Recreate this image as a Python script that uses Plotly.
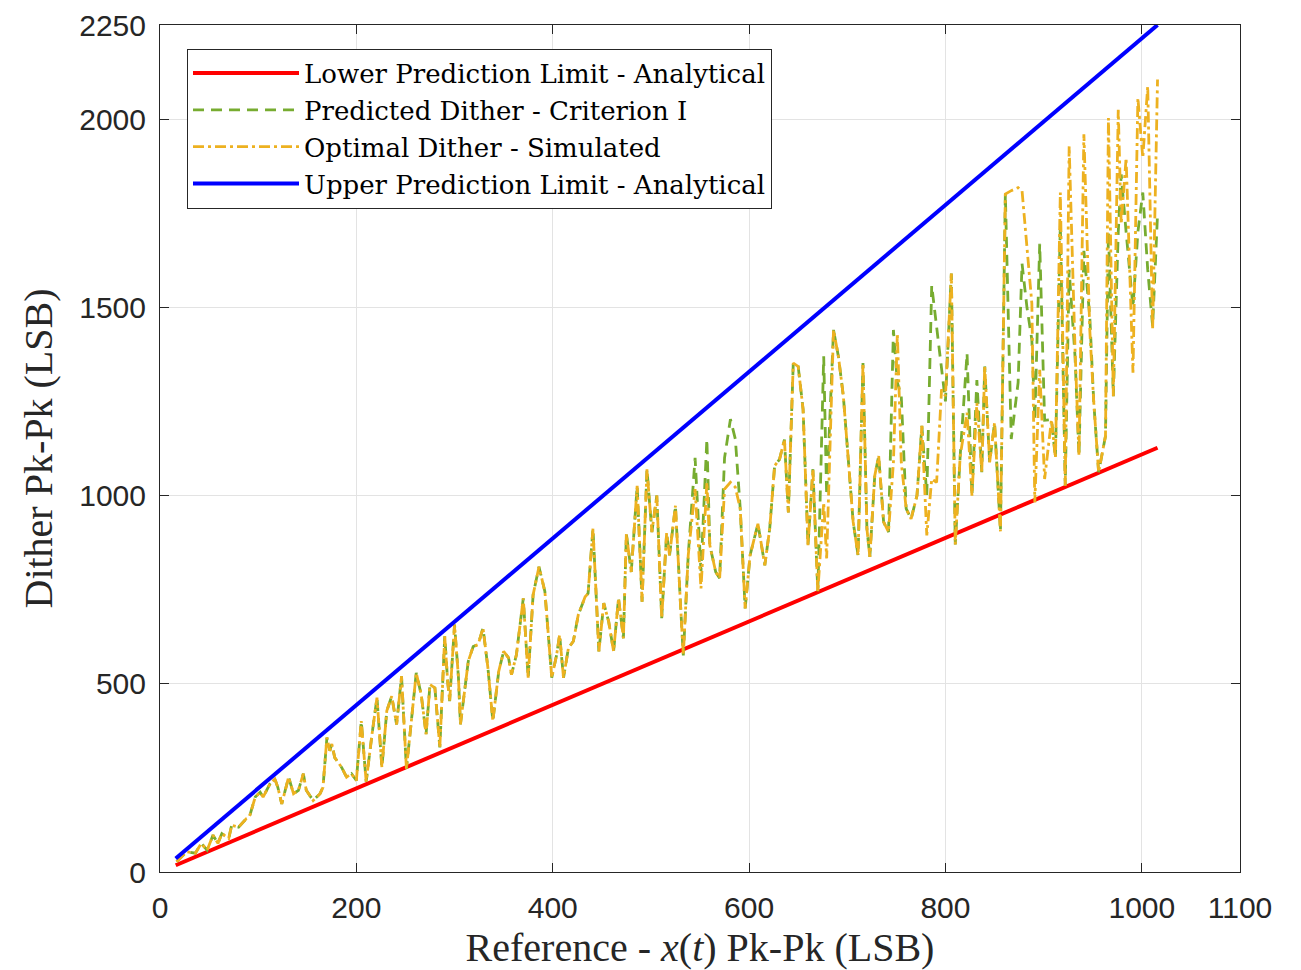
import plotly.graph_objects as go

# ---- data ----
limit_x = [16, 1016]
lower_limit = [18, 1127]
upper_limit = [36, 2250]

ref_x = [17, 27, 36, 42, 48, 54, 59, 63, 70, 73, 80, 83, 88, 91, 97, 102, 105, 112, 117, 120,
         124, 131, 136, 141, 146, 149, 156, 163, 166, 170, 173, 175, 178, 185, 190, 195, 200, 205, 210, 216,
         221, 226, 231, 236, 241, 246, 251, 256, 261, 266, 271, 275, 280, 285, 290, 293, 295, 300, 304, 306,
         314, 319, 324, 329, 334, 339, 345, 350, 355, 358, 363, 370, 375, 380, 386, 392, 399, 404, 407, 411,
         416, 421, 426, 433, 436, 441, 445, 447, 452, 457, 462, 467, 472, 475, 480, 486, 491, 496, 501, 506,
         511, 516, 519, 525, 530, 533, 538, 545, 551, 557, 560, 566, 570, 575, 581, 586, 591, 596, 601, 609,
         616, 621, 626, 631, 636, 640, 645, 650, 655, 660, 665, 670, 676, 679, 686, 691, 696, 701, 706, 711,
         716, 720, 723, 728, 732, 737, 742, 747, 751, 755, 760, 765, 771, 776, 781, 786, 791, 796, 800, 806,
         810, 815, 822, 827, 832, 837, 840, 845, 850, 856, 861, 867, 874, 878, 883, 888, 891, 896, 901, 908,
         912, 917, 922, 926, 932, 936, 941, 947, 951, 956, 963, 966, 971, 976, 979, 984, 991, 996, 1001, 1006,
         1011, 1016]

optimal_dither = [27, 54, 50, 76, 58, 98, 76, 102, 89, 124, 119, 128, 142, 146, 199, 212, 199, 234, 247, 225,
                  181, 252, 208, 217, 261, 217, 190, 208, 225, 357, 322, 340, 304, 278, 252, 261, 243, 401, 240, 367,
                  463, 278, 428, 467, 392, 520, 274, 401, 529, 472, 366, 498, 489, 331, 626, 506, 454, 657, 516, 392,
                  560, 599, 604, 648, 542, 401, 533, 586, 569, 524, 577, 727, 516, 736, 811, 745, 516, 577, 630, 516,
                  595, 613, 683, 731, 740, 912, 701, 586, 714, 665, 586, 727, 621, 898, 797, 1026, 718, 1070, 903, 1000,
                  674, 900, 841, 973, 718, 575, 841, 1017, 753, 1035, 868, 797, 780, 1017, 1035, 1022, 965, 700, 841, 925,
                  815, 912, 1079, 1096, 1149, 955, 1352, 1343, 1229, 868, 1070, 745, 982, 833, 1440, 1369, 1264, 1088, 930, 841,
                  1352, 912, 837, 1053, 1105, 930, 903, 1088, 1431, 1088, 965, 938, 1000, 1185, 894, 1044, 1035, 1282, 1264, 1590,
                  870, 1105, 1220, 1000, 1246, 1062, 1343, 1088, 1193, 905, 1801, 1810, 1818, 1810, 1651, 1510, 982, 1334, 1044, 1202,
                  1100, 1805, 1026, 1928, 1387, 1105, 1960, 1440, 1250, 1062, 1158, 2003, 1264, 2025, 1721, 1897, 1326, 2056, 1897, 2087,
                  1440, 2105]

predicted_dither = [27, 54, 50, 76, 58, 98, 76, 102, 89, 124, 119, 128, 142, 146, 199, 212, 199, 234, 247, 225,
                    181, 252, 208, 217, 261, 217, 190, 208, 225, 357, 322, 340, 304, 278, 252, 261, 243, 401, 240, 367,
                    463, 278, 428, 467, 392, 520, 274, 401, 529, 472, 366, 498, 489, 331, 626, 506, 454, 657, 516, 392,
                    560, 599, 604, 648, 542, 401, 533, 586, 569, 524, 577, 727, 516, 736, 811, 745, 516, 577, 630, 516,
                    595, 613, 683, 731, 740, 912, 701, 586, 714, 665, 586, 727, 621, 898, 797, 1026, 718, 1070, 903, 1000,
                    674, 900, 841, 973, 718, 575, 841, 1100, 800, 1150, 868, 797, 780, 1100, 1203, 1150, 965, 700, 841, 925,
                    815, 912, 1079, 1096, 1149, 955, 1352, 1343, 1229, 868, 1070, 745, 1370, 1000, 1440, 1369, 1264, 1088, 930, 841,
                    1352, 912, 837, 1053, 1105, 930, 903, 1440, 1300, 1264, 965, 938, 1000, 1185, 1000, 1558, 1450, 1352, 1250, 1590,
                    870, 1105, 1378, 1000, 1307, 1062, 1343, 1088, 1193, 905, 1801, 1150, 1300, 1616, 1500, 1414, 1200, 1669, 1200, 1202,
                    1100, 1721, 1026, 1600, 1369, 1105, 1650, 1475, 1250, 1062, 1158, 1700, 1264, 1700, 1853, 1700, 1500, 1700, 1805, 1600,
                    1450, 1748]

x_tick_vals = [0, 200, 400, 600, 800, 1000, 1100]
y_tick_vals = [0, 500, 1000, 1500, 2000, 2250]

# ---- figure ----
serif = "Liberation Serif"
legend_serif = "DejaVu Serif"
sans = "Liberation Sans"

fig = go.Figure()
fig.add_trace(go.Scatter(x=limit_x, y=lower_limit, mode="lines",
                         name="Lower Prediction Limit - Analytical",
                         line=dict(color="#FF0000", width=4)))
fig.add_trace(go.Scatter(x=ref_x, y=predicted_dither, mode="lines",
                         name="Predicted Dither - Criterion I",
                         line=dict(color="#77AC30", width=2.8, dash="11px,7px")))
fig.add_trace(go.Scatter(x=ref_x, y=optimal_dither, mode="lines",
                         name="Optimal Dither - Simulated",
                         line=dict(color="#EDB120", width=2.8, dash="11px,4px,3px,4px")))
fig.add_trace(go.Scatter(x=limit_x, y=upper_limit, mode="lines",
                         name="Upper Prediction Limit - Analytical",
                         line=dict(color="#0000FF", width=4)))

axis_common = dict(
    showline=True, linecolor="#262626", linewidth=1, mirror="ticks",
    ticks="inside", ticklen=9, tickcolor="#262626", tickwidth=1,
    showgrid=True, gridcolor="#E3E3E3", gridwidth=1, zeroline=False,
    tickfont=dict(family=sans, size=30, color="#262626"),
    automargin=False, ticklabeloverflow="allow",
)

fig.update_xaxes(range=[0, 1100], tickvals=x_tick_vals,
                 ticktext=[str(v) for v in x_tick_vals], ticklabelstandoff=9,
                 title=dict(text="Reference - <i>x</i>(<i>t</i>) Pk-Pk (LSB)",
                            font=dict(family=serif, size=40, color="#262626"), standoff=12),
                 **axis_common)
fig.update_yaxes(range=[0, 2250], tickvals=y_tick_vals,
                 ticktext=[str(v) for v in y_tick_vals], ticklabelstandoff=7,
                 title=dict(text="Dither Pk-Pk (LSB)",
                            font=dict(family=serif, size=40, color="#262626"), standoff=14),
                 **axis_common)

# page body adds an 8px margin, so the figure is sized to fit inside the window
fig.update_layout(
    width=1293, height=962,
    margin=dict(l=152, r=61, t=17, b=98),
    plot_bgcolor="white", paper_bgcolor="white",
    showlegend=True,
    legend=dict(x=0.025, y=0.972, xanchor="left", yanchor="top",
                bgcolor="white", bordercolor="#262626", borderwidth=1,
                font=dict(family=legend_serif, size=26, color="#000000"),
                itemwidth=106, tracegroupgap=0),
)

fig.write_html("out.html")
